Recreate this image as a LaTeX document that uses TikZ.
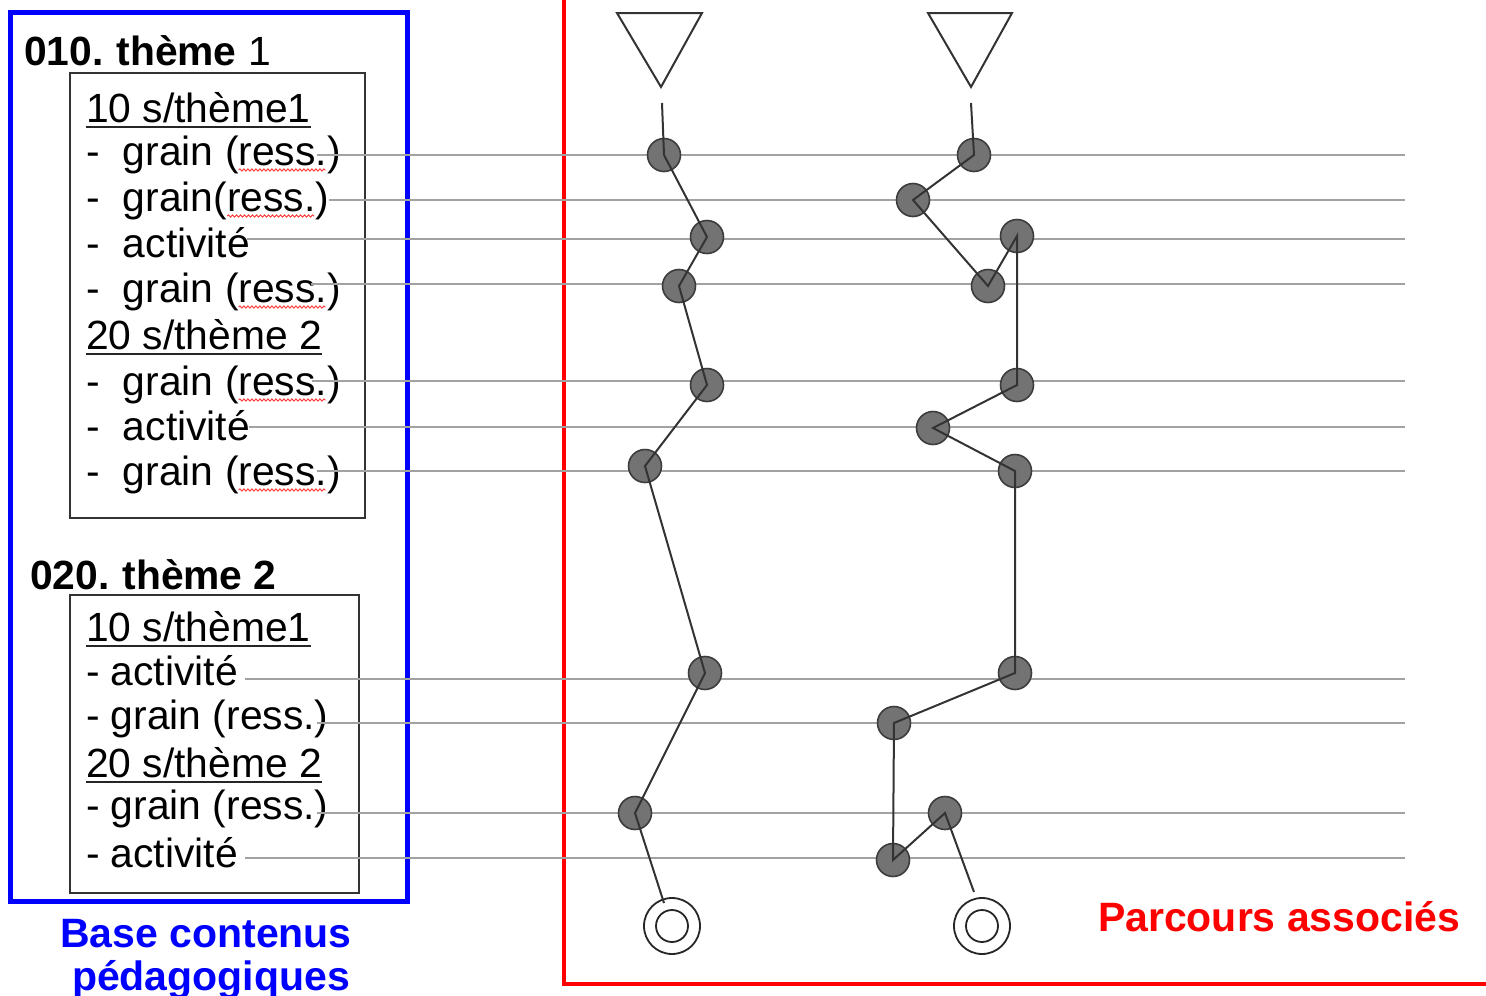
\documentclass[tikz,border=0pt]{standalone}
\usepackage{fontspec}
\setmainfont{Liberation Sans}
\usetikzlibrary{decorations.pathmorphing}

\definecolor{framegray}{HTML}{333333}
\definecolor{stopfill}{HTML}{737373}
\definecolor{stopedge}{HTML}{3C3C3C}
\definecolor{guidegray}{HTML}{A2A2A2}
\definecolor{pureblue}{RGB}{0,0,255}
\definecolor{purered}{RGB}{255,0,0}

\tikzset{
  txt/.style={anchor=base west, inner sep=0pt, outer sep=0pt,
              font=\fontsize{40.8}{48}\selectfont, text=black},
  headtxt/.style={txt, font=\fontsize{40.8}{48}\selectfont\bfseries},
  boxframe/.style={draw=framegray, line width=2.2pt},
  uline/.style={draw=black!85, line width=2pt},
  guide/.style={draw=guidegray, line width=2pt},
  squig/.style={draw=purered!80, line width=0.9pt,
                decorate, decoration={snake, amplitude=1.1pt, segment length=4pt}},
  stop/.style={circle, minimum size=33pt, inner sep=0pt,
               fill=stopfill, draw=stopedge, line width=1.6pt},
  link/.style={draw=black!80, line width=2pt},
  startmark/.style={draw=black!80, line width=2pt, line join=miter},
  goal/.style={circle, draw=black!85, line width=1.8pt, inner sep=0pt, fill=white},
  bigtitle/.style={inner sep=0pt, anchor=base, font=\fontsize{41}{48}\selectfont\bfseries},
}

\begin{document}
\begin{tikzpicture}[x=1pt, y=-1pt]
\useasboundingbox (0,0) rectangle (1486,996);

% ---------- content base (left) ----------
\draw[pureblue, line width=4.8pt] (10.5,12.5) rectangle (407.5,901.5);
\node[bigtitle, text=pureblue] (basetitle) at (206,947) {Base contenus};
\node[bigtitle, text=pureblue] (basetitle2) at (211,990) {pédagogiques};

\draw[boxframe] (70,73) rectangle (365,518);
\draw[boxframe] (70,595) rectangle (359,893);

\node[headtxt] (t1) at (24,65) {010.\hspace{-2pt} thème \mdseries 1};
\node[headtxt] (t2) at (30,589) {020.\hspace{-2pt} thème 2};

% theme 1 entries
\node[txt] (h11) at (86,122) {10 s/thème1};
\node[txt] (g1) at (86,165) {\makebox[37pt][l]{-}grain (ress.)};
\node[txt] (g2) at (86,211) {\makebox[37pt][l]{-}grain(ress.)};
\node[txt] (g3) at (86,257) {\makebox[37pt][l]{-}activité};
\node[txt] (g4) at (86,302) {\makebox[37pt][l]{-}grain (ress.)};
\node[txt] (h12) at (86,349) {20 s/thème 2};
\node[txt] (g5) at (86,395) {\makebox[37pt][l]{-}grain (ress.)};
\node[txt] (g6) at (86,440) {\makebox[37pt][l]{-}activité};
\node[txt] (g7) at (86,485) {\makebox[37pt][l]{-}grain (ress.)};

% theme 2 entries
\node[txt] (h21) at (86,641) {10 s/thème1};
\node[txt] (k1) at (86,685) {- activité};
\node[txt] (k2) at (86,729) {- grain (ress.)};
\node[txt] (h22) at (86,777) {20 s/thème 2};
\node[txt] (k3) at (86,819) {- grain (ress.)};
\node[txt] (k4) at (86,867) {- activité};

% sub-theme underlines
\foreach \h in {h11,h12,h21,h22}
  \draw[uline] ([yshift=-4.5pt]\h.base west) -- ([yshift=-4.5pt]\h.base east);

% spelling marks under "ress."
\foreach \g in {g1,g2,g4,g5,g7}
  \draw[squig] ([xshift=-102pt,yshift=-5pt]\g.base east) -- ([xshift=-15pt,yshift=-5pt]\g.base east);

% ---------- associated paths (right) ----------
\draw[purered, line width=4.8pt] (564,0) -- (564,984) -- (1486,984);
\node[txt, font=\fontsize{41}{48}\selectfont\bfseries, text=purered]
  (pathtitle) at (1098,931) {Parcours associés};

% guide lines from each entry
\foreach \n/\y in {1/155,2/200,3/239,4/284,5/381,6/427,7/471,8/679,9/723,10/813,11/858}
  \coordinate (e\n) at (1405,\y);
\draw[guide] (g1.east |- e1) ++(-24,0) -- (e1);
\draw[guide] (g2.east |- e2) -- (e2);
\draw[guide] (g3.east |- e3) ++(-3,0) -- (e3);
\draw[guide] (g4.east |- e4) ++(-30,0) -- (e4);
\draw[guide] (g5.east |- e5) ++(-29,0) -- (e5);
\draw[guide] (g6.east |- e6) ++(-1,0) -- (e6);
\draw[guide] (g7.east |- e7) ++(-24,0) -- (e7);
\draw[guide] (k1.east |- e8) ++(7,0) -- (e8);
\draw[guide] (k2.east |- e9) ++(-12,0) -- (e9);
\draw[guide] (k3.east |- e10) ++(-12,0) -- (e10);
\draw[guide] (k4.east |- e11) ++(7,0) -- (e11);

% start markers
\draw[startmark] (617,13) -- (702,13) -- (661,87) -- cycle;
\draw[startmark] (928,13) -- (1012,13) -- (971,87) -- cycle;
\coordinate (s1) at (662,103);
\coordinate (s2) at (971,103);

% steps of path 1
\node[stop] (p1) at (664,155) {};
\node[stop] (p2) at (707,237) {};
\node[stop] (p3) at (679,286) {};
\node[stop] (p4) at (707,385) {};
\node[stop] (p5) at (645,466) {};
\node[stop] (p6) at (705,673) {};
\node[stop] (p7) at (635,813) {};

% steps of path 2
\node[stop] (q1) at (974,155) {};
\node[stop] (q2) at (913,200) {};
\node[stop] (q3) at (988,286) {};
\node[stop] (q4) at (1017,236) {};
\node[stop] (q5) at (1017,385) {};
\node[stop] (q6) at (933,428) {};
\node[stop] (q7) at (1015,471) {};
\node[stop] (q8) at (1015,673) {};
\node[stop] (q9) at (894,723) {};
\node[stop] (q10) at (893,860) {};
\node[stop] (q11) at (945,813) {};

% end markers
\node[goal, minimum size=56pt] (f1) at (672,926) {};
\node[goal, minimum size=32pt] (f1in) at (f1) {};
\node[goal, minimum size=56pt] (f2) at (982,926) {};
\node[goal, minimum size=32pt] (f2in) at (f2) {};
\coordinate (z1) at (664,903);
\coordinate (z2) at (974,892);

\draw[link] (s1) -- (p1.center) -- (p2.center) -- (p3.center) -- (p4.center)
  -- (p5.center) -- (p6.center) -- (p7.center) -- (z1);
\draw[link] (s2) -- (q1.center) -- (q2.center) -- (q3.center) -- (q4.center)
  -- (q5.center) -- (q6.center) -- (q7.center) -- (q8.center) -- (q9.center)
  -- (q10.center) -- (q11.center) -- (z2);
\end{tikzpicture}
\end{document}
